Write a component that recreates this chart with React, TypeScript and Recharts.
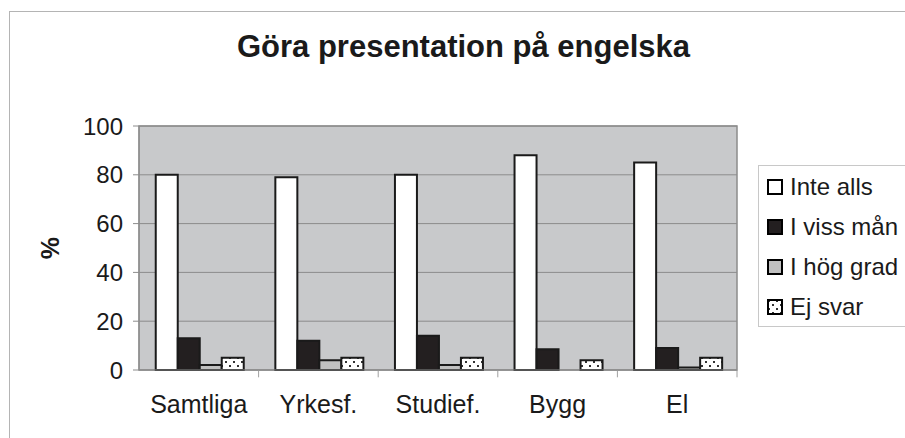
import React from "react";
import {
  BarChart,
  Bar,
  XAxis,
  YAxis,
  CartesianGrid,
  Legend,
  ReferenceArea,
  ReferenceLine,
} from "recharts";

const categories = ["Samtliga", "Yrkesf.", "Studief.", "Bygg", "El"];
const seriesNames = ["Inte alls", "I viss mån", "I hög grad", "Ej svar"];
const inteAlls = [80, 79, 80, 88, 85];
const vissMan = [13, 12, 14, 8.5, 9];
const hogGrad = [2, 4, 2, 0, 1];
const ejSvar = [5, 5, 5, 4, 5];
const yTicks = [0, 20, 40, 60, 80, 100];

const data = categories.map((name, i) => ({
  name,
  inteAlls: inteAlls[i],
  vissMan: vissMan[i],
  hogGrad: hogGrad[i],
  ejSvar: ejSvar[i],
}));

const FONT = "'Liberation Sans', Arial, sans-serif";

function CategoryTick(props: any) {
  const { x, y, payload } = props;
  return (
    <text
      x={x}
      y={y + 34}
      textAnchor="middle"
      dominantBaseline="central"
      fontSize={25}
      fontFamily={FONT}
      fill="#1a1a1a"
    >
      {payload.value}
    </text>
  );
}

function LegendBox(props: any) {
  const items = [...(props.payload || [])].sort(
    (a: any, b: any) => seriesNames.indexOf(a.value) - seriesNames.indexOf(b.value)
  );
  return (
    <div
      style={{
        border: "1px solid #c8c8c8",
        borderRight: "none",
        background: "#fff",
        width: 160,
        height: 162,
        boxSizing: "border-box",
        paddingTop: 1,
        fontFamily: FONT,
      }}
    >
      {items.map((it: any) => (
        <div
          key={it.value}
          style={{ display: "flex", alignItems: "center", height: 40, paddingLeft: 8 }}
        >
          <svg width={16} height={16} style={{ marginRight: 7 }}>
            <rect x={1} y={1} width={14} height={14} fill={it.color} stroke="#000" strokeWidth={2} />
          </svg>
          <span style={{ fontSize: 24, color: "#1a1a1a", whiteSpace: "nowrap" }}>{it.value}</span>
        </div>
      ))}
    </div>
  );
}

export default function App() {
  return (
    <div style={{ position: "absolute", left: 0, top: 0, width: 905, height: 438, background: "#fff", overflow: "hidden" }}>
      <div
        style={{
          position: "absolute",
          left: 9,
          top: 11,
          width: 920,
          height: 450,
          borderTop: "1px solid #b4b4b4",
          borderLeft: "1px solid #b4b4b4",
        }}
      />
      <div
        style={{
          position: "absolute",
          left: 0,
          top: 29,
          width: 927,
          textAlign: "center",
          fontFamily: FONT,
          fontWeight: "bold",
          fontSize: 31,
          lineHeight: "36px",
          color: "#1a1a1a",
        }}
      >
        Göra presentation på engelska
      </div>
      <div style={{ position: "absolute", left: 0, top: 0 }}>
        <BarChart
          width={905}
          height={438}
          data={data}
          margin={{ top: 126, right: 168, bottom: 0, left: 0 }}
          barCategoryGap="14%"
          barGap={0}
        >
          <defs>
            <pattern id="dots" width="8" height="8" patternUnits="userSpaceOnUse">
              <rect width="8" height="8" fill="#ffffff" />
              <rect x="1" y="1" width="2" height="2" fill="#333" />
              <rect x="5" y="5" width="2" height="2" fill="#333" />
            </pattern>
          </defs>
          <CartesianGrid
            vertical={false}
            fill="#c8c9cb"
            fillOpacity={1}
            stroke="#8c8c8c"
            strokeWidth={1}
          />
          <XAxis
            dataKey="name"
            interval={0}
            tickLine={false}
            tickSize={0}
            tickMargin={0}
            axisLine={{ stroke: "#8c8c8c" }}
            tick={<CategoryTick />}
            height={68}
          />
          <YAxis
            width={139}
            domain={[0, 100]}
            ticks={yTicks}
            interval={0}
            tickSize={6}
            tickMargin={10}
            tickLine={{ stroke: "#8c8c8c" }}
            axisLine={{ stroke: "#8c8c8c" }}
            tick={{ fill: "#1a1a1a", fontSize: 24, fontFamily: FONT }}
            label={{
              value: "%",
              angle: -90,
              position: "insideLeft",
              offset: 50,
              style: { fontSize: 25, fontWeight: "bold", fontFamily: FONT, fill: "#1a1a1a", textAnchor: "middle" },
            }}
          />
          <ReferenceArea
            y1={0}
            y2={100}
            fill="none"
            stroke="#8c8c8c"
            strokeWidth={1.5}
            ifOverflow="visible"
          />
          {/* small divider ticks below the axis, at the end of each category band */}
          {categories.map((c) => (
            <ReferenceLine
              key={c}
              position="end"
              segment={[
                { x: c, y: 0 },
                { x: c, y: -3 },
              ]}
              stroke="#a0a0a0"
              strokeWidth={1}
              ifOverflow="visible"
            />
          ))}
          <Bar dataKey="inteAlls" name={seriesNames[0]} fill="#ffffff" stroke="#1a1a1a" strokeWidth={2} isAnimationActive={false} />
          <Bar dataKey="vissMan" name={seriesNames[1]} fill="#231f20" stroke="#1a1a1a" strokeWidth={2} isAnimationActive={false} />
          <Bar dataKey="hogGrad" name={seriesNames[2]} fill="#c0c0c0" stroke="#1a1a1a" strokeWidth={2} isAnimationActive={false} />
          <Bar dataKey="ejSvar" name={seriesNames[3]} fill="url(#dots)" stroke="#1a1a1a" strokeWidth={2} isAnimationActive={false} />
          <Legend
            layout="vertical"
            align="center"
            verticalAlign="middle"
            content={<LegendBox />}
            wrapperStyle={{ left: 758, top: 165, width: 160, height: 162 }}
          />
        </BarChart>
      </div>
    </div>
  );
}
